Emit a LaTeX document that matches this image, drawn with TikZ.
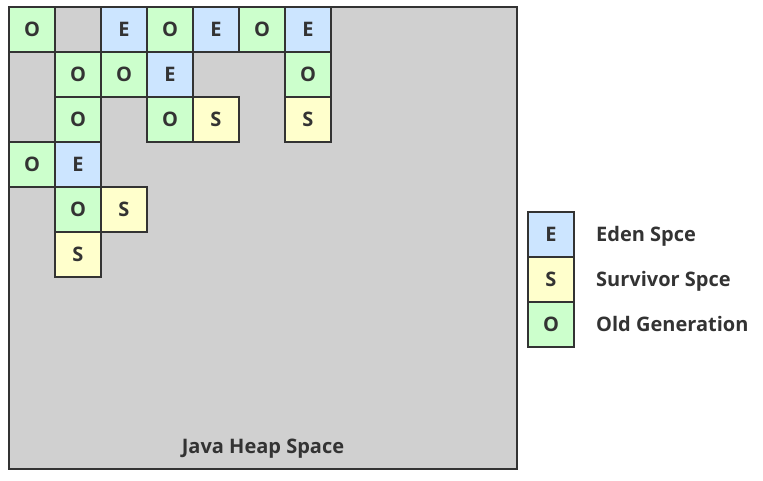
\documentclass[tikz,border=0pt]{standalone}
\usepackage{fontspec}
\setmainfont{Open Sans}
\usetikzlibrary{positioning,calc}

\definecolor{heapgray}{RGB}{208,208,208}
\definecolor{edenblue}{RGB}{204,229,255}
\definecolor{survyellow}{RGB}{255,255,204}
\definecolor{oldgreen}{RGB}{204,255,204}
\definecolor{edgegray}{RGB}{51,51,51}

\begin{document}
\begin{tikzpicture}[
  x=1pt, y=-1pt,
  font=\bfseries\fontsize{20}{22}\selectfont,
  heap/.style={draw=edgegray, fill=heapgray, line width=2pt,
               minimum width=508pt, minimum height=462pt, inner sep=0pt},
  cell/.style={draw=edgegray, line width=2pt, minimum width=46pt,
               minimum height=45pt, inner sep=0pt, outer sep=0pt,
               text=edgegray},
  eden/.style={cell, fill=edenblue},
  surv/.style={cell, fill=survyellow},
  old/.style={cell, fill=oldgreen},
  blank/.style={cell, fill=heapgray},
  legtext/.style={inner sep=0pt, anchor=base west, yshift=-7pt, text=edgegray}
]
\useasboundingbox (0,0) rectangle (763,481);

% Heap
\node[heap] (heap) at (263,238) {};
\node[text=edgegray] (heaplabel) at ($(heap.south)+(0,-21)$) {Java Heap Space};

% Row 1
\node[old] (r1c1) at (32,29.5) {O};
\node[blank] (r1c2) at (78,29.5) {};
\node[eden] (r1c3) at (124,29.5) {E};
\node[old] (r1c4) at (170,29.5) {O};
\node[eden] (r1c5) at (216,29.5) {E};
\node[old] (r1c6) at (262,29.5) {O};
\node[eden] (r1c7) at (308,29.5) {E};

% Row 2
\node[old] (r2c2) at (78,74.5) {O};
\node[old] (r2c3) at (124,74.5) {O};
\node[eden] (r2c4) at (170,74.5) {E};
\node[old] (r2c7) at (308,74.5) {O};

% Row 3
\node[old] (r3c2) at (78,119.5) {O};
\node[old] (r3c4) at (170,119.5) {O};
\node[surv] (r3c5) at (216,119.5) {S};
\node[surv] (r3c7) at (308,119.5) {S};

% Rows 4-6
\node[old] (r4c1) at (32,164.5) {O};
\node[eden] (r4c2) at (78,164.5) {E};
\node[old] (r5c2) at (78,209.5) {O};
\node[surv] (r5c3) at (124,209.5) {S};
\node[surv] (r6c2) at (78,254.5) {S};

% Legend
\node[eden] (legE) at (551,234.5) {E};
\node[surv, below=0pt of legE] (legS) {S};
\node[old, below=0pt of legS] (legO) {O};
\node[right=22pt of legE, legtext] (legEtext) {Eden Spce};
\node[right=22pt of legS, legtext] (legStext) {Survivor Spce};
\node[right=22pt of legO, legtext] (legOtext) {Old Generation};

\end{tikzpicture}
\end{document}
